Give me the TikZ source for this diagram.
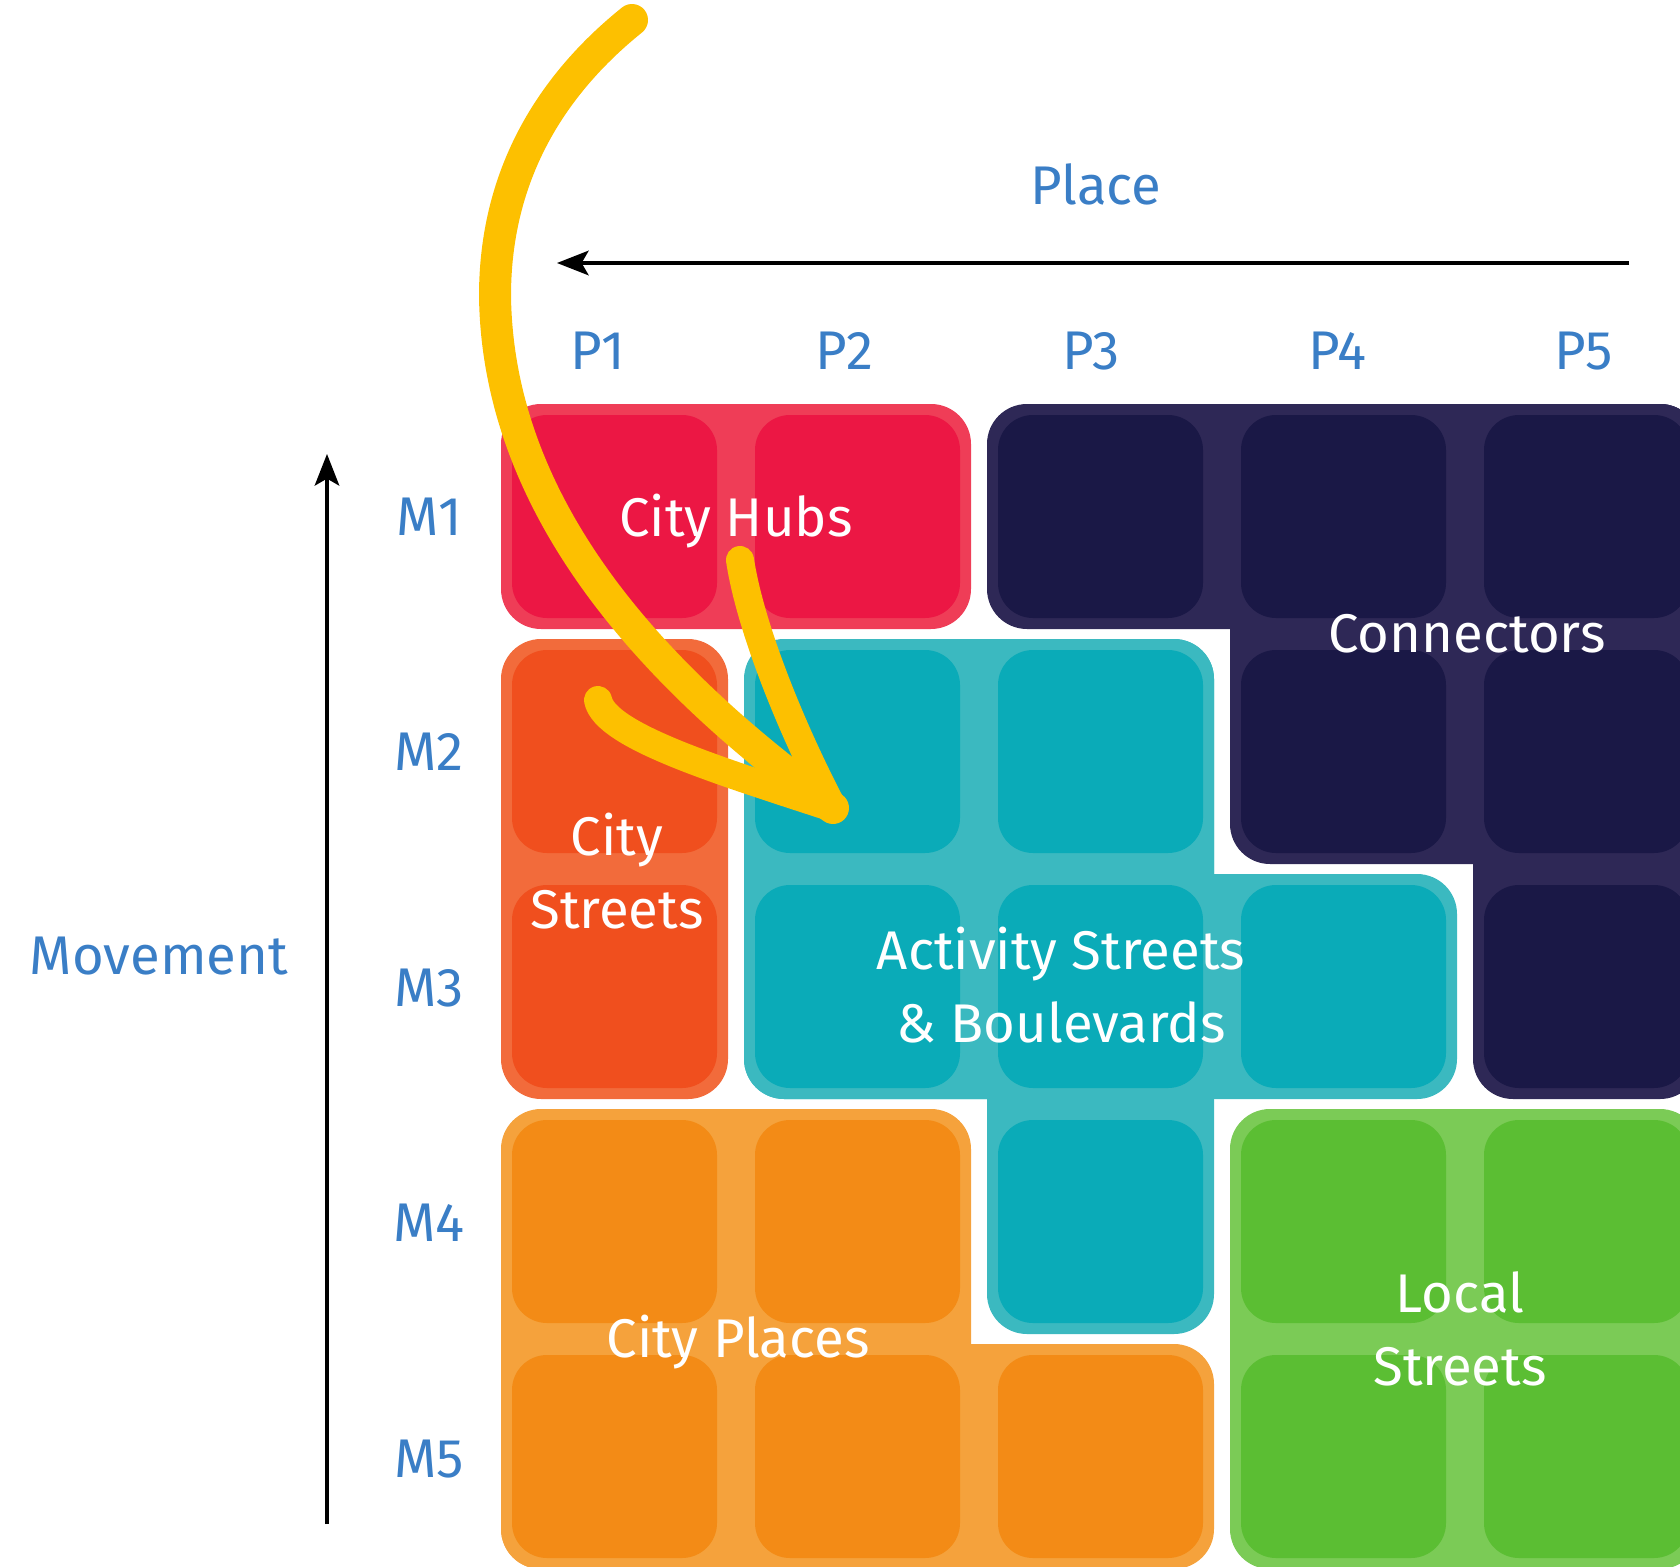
\documentclass[tikz,border=0pt]{standalone}
\usepackage{fontspec}
\setmainfont{Fira Sans}
\usepackage{xcolor}
\usepackage{tikz}
\usetikzlibrary{arrows.meta}

\definecolor{hubcell}{HTML}{EC1744}
\definecolor{hubband}{HTML}{EF3D57}
\definecolor{linkcell}{HTML}{1A1846}
\definecolor{linkband}{HTML}{2E2856}
\definecolor{streetcell}{HTML}{F04F1E}
\definecolor{streetband}{HTML}{F26B3B}
\definecolor{activecell}{HTML}{0AABB8}
\definecolor{activeband}{HTML}{3BB9C0}
\definecolor{placecell}{HTML}{F38B16}
\definecolor{placeband}{HTML}{F5A23C}
\definecolor{localcell}{HTML}{5BBE33}
\definecolor{localband}{HTML}{7BCB56}
\definecolor{axisblue}{HTML}{3A7EC6}
\definecolor{swoopyellow}{HTML}{FDC000}

\begin{document}
\begin{tikzpicture}[
  axislabel/.style={text=axisblue, anchor=base, inner sep=0pt,
    font=\fontsize{15.5}{20.5}\selectfont},
  boxlabel/.style={text=white, anchor=base, align=center, inner sep=0pt,
    font=\fontsize{15.5}{20.5}\selectfont},
  axis/.style={line width=0.9pt, -{Stealth[length=9pt,width=7pt,inset=2pt]}},
  swoop/.style={draw=swoopyellow, line width=3.2mm, line cap=round},
  barb/.style={draw=swoopyellow, line width=2.8mm, line cap=round}
]
  \useasboundingbox (0,0) rectangle (16.8,15.66);

  % Group outlines (col/row from, col/row to)
  \foreach \a/\b/\c/\d/\col in {0/0/1/0/hubband,
      2/0/4/0/linkband, 3/0/4/1/linkband, 4/0/4/2/linkband,
      0/1/0/2/streetband,
      1/1/2/2/activeband, 1/2/3/2/activeband, 2/1/2/3/activeband,
      0/3/1/4/placeband, 0/4/2/4/placeband,
      3/3/4/4/localband} {
    \fill[fill=\col, rounded corners=4mm]
      (5.01+2.43*\a, 11.62-2.35*\b) rectangle (7.28+2.43*\c, 9.37-2.35*\d);
  }

  % Cells
  \foreach \i/\j/\col in {0/0/hubcell, 1/0/hubcell,
      2/0/linkcell, 3/0/linkcell, 4/0/linkcell, 3/1/linkcell, 4/1/linkcell, 4/2/linkcell,
      0/1/streetcell, 0/2/streetcell,
      1/1/activecell, 2/1/activecell, 1/2/activecell, 2/2/activecell, 3/2/activecell, 2/3/activecell,
      0/3/placecell, 1/3/placecell, 0/4/placecell, 1/4/placecell, 2/4/placecell,
      3/3/localcell, 4/3/localcell, 3/4/localcell, 4/4/localcell} {
    \fill[fill=\col, rounded corners=3.5mm]
      (5.12+2.43*\i, 11.51-2.35*\j) rectangle ++(2.05,-2.03);
  }

  % Group names (base = last line)
  \node[boxlabel] (hubs) at (7.36,10.30) {City Hubs};
  \node[boxlabel] (connectors) at (14.67,9.14) {Connectors};
  \node[boxlabel] (streets) at (6.17,6.38) {City\\Streets};
  \node[boxlabel] (activity) at (10.61,5.24) {Activity Streets\\\& Boulevards};
  \node[boxlabel] (places) at (7.38,2.09) {City Places};
  \node[boxlabel] (local) at (14.60,1.81) {Local\\Streets};

  % Place axis
  \node[axislabel] (place) at (10.96,13.61) {Place};
  \coordinate (placeend) at (16.29,13.03);
  \coordinate (placetip) at (5.57,13.03);
  \draw[axis] (placeend) -- (placetip);
  \foreach \i in {1,...,5} {
    \node[axislabel] (p\i) at (5.98+2.465*\i-2.465,11.97) {P\i};
  }

  % Movement axis
  \node[axislabel] (movement) at (1.59,5.92) {Movement};
  \coordinate (movefoot) at (3.27,0.42);
  \coordinate (movetip) at (3.27,11.12);
  \draw[axis] (movefoot) -- (movetip);
  \foreach \i in {1,...,5} {
    \node[axislabel] (m\i) at (4.29,10.31-2.355*\i+2.355) {M\i};
  }

  % Hand drawn arrow
  \coordinate (swoopstart) at (6.32,15.46);
  \coordinate (swooptip) at (8.33,7.58);
  \coordinate (upperbarb) at (7.40,10.06);
  \coordinate (lowerbarb) at (5.98,8.66);
  \draw[swoop] (swoopstart) .. controls (5.5,14.8) and (4.95,13.9) .. (4.95,12.7)
    .. controls (4.98,10.4) and (6.8,8.7) .. (swooptip);
  \draw[barb] (upperbarb) .. controls (7.50,9.4) and (7.9,8.4) .. (swooptip);
  \draw[barb] (lowerbarb) .. controls (6.05,8.3) and (7.2,7.95) .. (swooptip);
\end{tikzpicture}
\end{document}
